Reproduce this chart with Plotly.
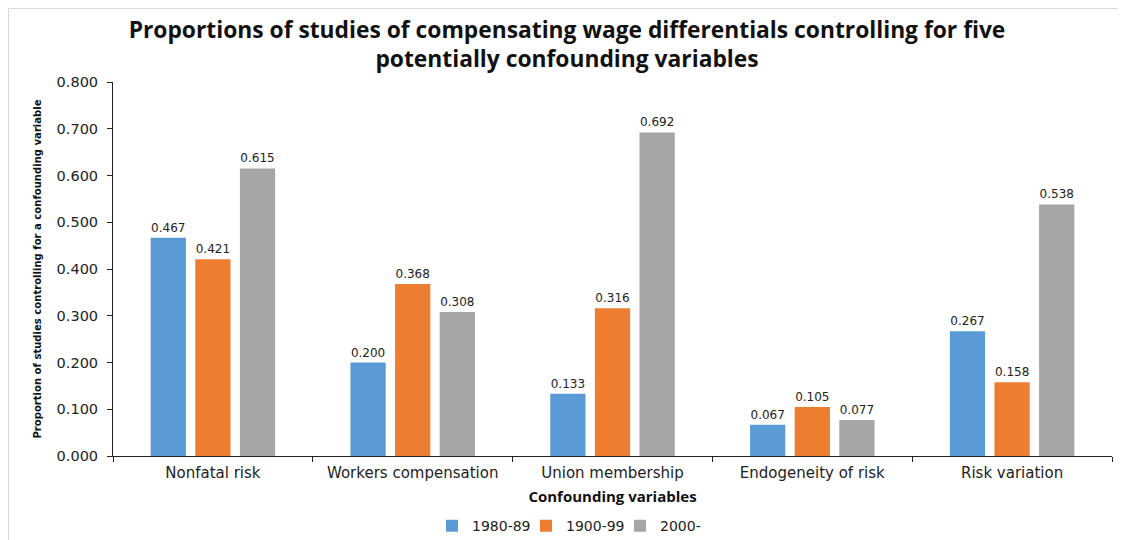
import plotly.graph_objects as go

categories = ["Nonfatal risk", "Workers compensation", "Union membership", "Endogeneity of risk", "Risk variation"]
series_names = ["1980-89", "1900-99", "2000-"]
vals_1980s = [0.467, 0.200, 0.133, 0.067, 0.267]
vals_1990s = [0.421, 0.368, 0.316, 0.105, 0.158]
vals_2000s = [0.615, 0.308, 0.692, 0.077, 0.538]
colors = ["#5B9BD5", "#ED7D31", "#A5A5A5"]

W, H = 1118, 532
ML, MR, MT, MB = 105, 14, 74, 84
pw, ph = W - ML - MR, H - MT - MB

fig = go.Figure()
for name, vals, col in zip(series_names, [vals_1980s, vals_1990s, vals_2000s], colors):
    fig.add_trace(go.Bar(
        x=categories, y=vals, name=name, marker=dict(color=col, line=dict(width=0)),
        texttemplate="%{y:.3f}", textposition="outside", cliponaxis=False,
        textfont=dict(family="DejaVu Sans", size=12, color="#222222"),
    ))

fig.update_layout(
    width=W, height=H,
    paper_bgcolor="white", plot_bgcolor="white",
    margin=dict(l=ML, r=MR, t=MT, b=MB),
    title=dict(
        text="Proportions of studies of compensating wage differentials controlling for five<br>potentially confounding variables",
        x=0.5, xanchor="center", y=0.944, yanchor="top",
        font=dict(family="Open Sans", size=22.8, color="#111111", weight="bold"),
    ),
    barmode="group", bargap=0.33, bargroupgap=0.21,
    showlegend=True,
    legend=dict(orientation="h", x=(424 - ML) / pw, xanchor="left", yref="container", y=0.026, yanchor="middle",
                font=dict(family="DejaVu Sans", size=14, color="#222222"),
                itemwidth=30, entrywidth=49, traceorder="normal"),
    font=dict(family="DejaVu Sans", color="#222222"),
)
fig.update_xaxes(
    type="category", showline=True, linecolor="#222222", linewidth=1,
    ticks="outside", tickson="boundaries", ticklen=5, tickcolor="#222222",
    ticklabelstandoff=3,
    tickfont=dict(family="DejaVu Sans", size=15, color="#222222"),
    title=dict(text="Confounding variables", standoff=10,
               font=dict(family="Open Sans", size=15, color="#111111", weight="bold")),
    showgrid=False, automargin=False,
)
fig.update_yaxes(
    range=[0, 0.8], dtick=0.1, tickformat=".3f",
    showline=True, linecolor="#222222", linewidth=1,
    ticks="outside", ticklen=5, tickcolor="#222222",
    ticklabelstandoff=6,
    tickfont=dict(family="DejaVu Sans", size=14.5, color="#222222"),
    title=dict(text="Proportion of studies controlling for a confounding variable", standoff=12,
               font=dict(family="DejaVu Sans Condensed", size=11.2, color="#111111", weight="bold")),
    showgrid=False, zeroline=False, automargin=False,
)
# light frame lines along the top and left edges
fig.add_shape(type="line", xref="paper", yref="paper", x0=-(ML - 0.5) / pw, x1=1 + MR / pw,
              y0=1 + (MT - 0.5) / ph, y1=1 + (MT - 0.5) / ph, line=dict(color="#D9D9D9", width=1))
fig.add_shape(type="line", xref="paper", yref="paper", x0=-(ML - 0.5) / pw, x1=-(ML - 0.5) / pw,
              y0=-MB / ph, y1=1 + (MT - 0.5) / ph, line=dict(color="#D9D9D9", width=1))

fig.write_html("out.html")
